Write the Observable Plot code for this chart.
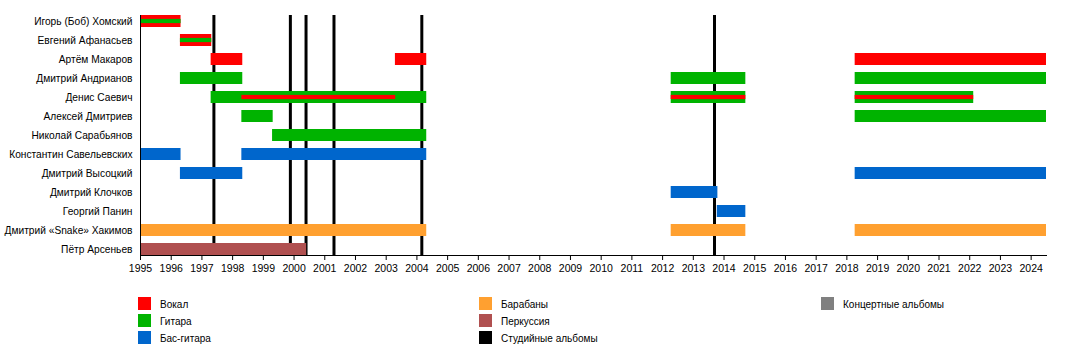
<!DOCTYPE html>
<html>
<head>
<meta charset="utf-8">
<script src="https://cdn.jsdelivr.net/npm/d3@7"></script>
<script src="https://cdn.jsdelivr.net/npm/@observablehq/plot@0.6"></script>
<style>
  html, body { margin: 0; padding: 0; background: #fff; }
  #wrap { position: relative; width: 1075px; height: 355px; font-family: "Liberation Sans", Arial, sans-serif; }
  #chart svg { display: block; }
  .lg { position: absolute; font-size: 10px; color: #000; line-height: 13px; white-space: nowrap; }
  .lg .sw { position: absolute; left: 0; top: 0; width: 13px; height: 13px; }
  .lg .tx { position: absolute; top: 1px; left: 22px; }
</style>
</head>
<body>
<div id="wrap">
  <div id="chart"></div>
  <div id="legend"></div>
</div>
<script>
// Members (top to bottom)
const members = [
  "Игорь (Боб) Хомский",
  "Евгений Афанасьев",
  "Артём Макаров",
  "Дмитрий Андрианов",
  "Денис Саевич",
  "Алексей Дмитриев",
  "Николай Сарабьянов",
  "Константин Савельевских",
  "Дмитрий Высоцкий",
  "Дмитрий Клочков",
  "Георгий Панин",
  "Дмитрий «Snake» Хакимов",
  "Пётр Арсеньев"
];

const roles = ["Вокал", "Гитара", "Бас-гитара", "Барабаны", "Перкуссия", "Студийные альбомы", "Концертные альбомы"];
const roleColors = ["#ff0000", "#00b300", "#0066cc", "#ffa030", "#b05050", "#000000", "#808080"];

const END = 2024.5;

// Main bars: [member, start, end, role]
const bars = [
  ["Игорь (Боб) Хомский", 1995.0, 1996.32, "Вокал"],
  ["Евгений Афанасьев", 1996.3, 1997.32, "Вокал"],
  ["Артём Макаров", 1997.3, 1998.33, "Вокал"],
  ["Артём Макаров", 2003.3, 2004.32, "Вокал"],
  ["Артём Макаров", 2018.27, END, "Вокал"],
  ["Дмитрий Андрианов", 1996.3, 1998.33, "Гитара"],
  ["Дмитрий Андрианов", 2012.28, 2014.71, "Гитара"],
  ["Дмитрий Андрианов", 2018.27, END, "Гитара"],
  ["Денис Саевич", 1997.3, 2004.32, "Гитара"],
  ["Денис Саевич", 2012.28, 2014.71, "Гитара"],
  ["Денис Саевич", 2018.27, 2022.13, "Гитара"],
  ["Алексей Дмитриев", 1998.3, 1999.32, "Гитара"],
  ["Алексей Дмитриев", 2018.27, END, "Гитара"],
  ["Николай Сарабьянов", 1999.3, 2004.32, "Гитара"],
  ["Константин Савельевских", 1995.0, 1996.32, "Бас-гитара"],
  ["Константин Савельевских", 1998.3, 2004.32, "Бас-гитара"],
  ["Дмитрий Высоцкий", 1996.3, 1998.33, "Бас-гитара"],
  ["Дмитрий Высоцкий", 2018.27, END, "Бас-гитара"],
  ["Дмитрий Клочков", 2012.28, 2013.8, "Бас-гитара"],
  ["Георгий Панин", 2013.78, 2014.71, "Бас-гитара"],
  ["Дмитрий «Snake» Хакимов", 1995.0, 2004.32, "Барабаны"],
  ["Дмитрий «Snake» Хакимов", 2012.28, 2014.71, "Барабаны"],
  ["Дмитрий «Snake» Хакимов", 2018.27, END, "Барабаны"],
  ["Пётр Арсеньев", 1995.0, 2000.41, "Перкуссия"]
];

// Secondary-role stripes drawn inside bars: [member, start, end, role]
const stripes = [
  ["Игорь (Боб) Хомский", 1995.0, 1996.32, "Гитара"],
  ["Евгений Афанасьев", 1996.3, 1997.32, "Гитара"],
  ["Денис Саевич", 1998.3, 2003.31, "Вокал"],
  ["Денис Саевич", 2012.28, 2014.71, "Вокал"],
  ["Денис Саевич", 2018.27, 2022.13, "Вокал"]
];

// Studio album release dates (decimal years)
const albums = [1997.39, 1999.88, 2000.39, 2001.3, 2004.16, 2013.69];

const years = d3.range(1995, 2025);

const toObj = ([name, start, end, role]) => ({name, start, end, role});
const barData = bars.map(toObj);
const stripeData = stripes.map(toObj);

const chart = Plot.plot({
  width: 1075,
  height: 285,
  marginLeft: 140,
  marginRight: 29,
  marginTop: 15,
  marginBottom: 30,
  style: { fontFamily: "'Liberation Sans', Arial, sans-serif", fontSize: "11px", color: "#000", background: "#fff" },
  x: { domain: [1995, END], label: null },
  y: { domain: members, range: [11.3, 258.8], paddingInner: 0.385, paddingOuter: 0.19, label: null },
  color: { domain: roles, range: roleColors },
  marks: [
    Plot.ruleX(albums, { x: d => d, stroke: "#000", strokeWidth: 3 }),
    Plot.barX(barData, { y: "name", x1: "start", x2: "end", fill: d => d.role }),
    Plot.barX(stripeData, { y: "name", x1: "start", x2: "end", fill: d => d.role, insetTop: 3.9, insetBottom: 3.9 }),
    Plot.frame({ anchor: "bottom", stroke: "#000" }),
    Plot.frame({ anchor: "left", stroke: "#000" }),
    Plot.axisX({ ticks: years, tickFormat: d => String(d), tickSize: 5, tickPadding: 4, fontSize: 10.5, stroke: "#000", label: null }),
    Plot.axisY({ tickSize: 0, tickPadding: 8, fontSize: 10.2, label: null })
  ]
});
document.getElementById("chart").appendChild(chart);

// Legend below the SVG
const legendPos = [
  [138, 297], [138, 314], [138, 331],
  [479, 297], [479, 314], [479, 331],
  [821, 297]
];
const legend = document.getElementById("legend");
roles.forEach((r, i) => {
  const [lx, ly] = legendPos[i];
  const item = document.createElement("div");
  item.className = "lg";
  item.style.left = lx + "px";
  item.style.top = ly + "px";
  const sw = document.createElement("div");
  sw.className = "sw";
  sw.style.background = roleColors[i];
  const tx = document.createElement("div");
  tx.className = "tx";
  tx.textContent = r;
  item.appendChild(sw);
  item.appendChild(tx);
  legend.appendChild(item);
});
</script>
</body>
</html>
